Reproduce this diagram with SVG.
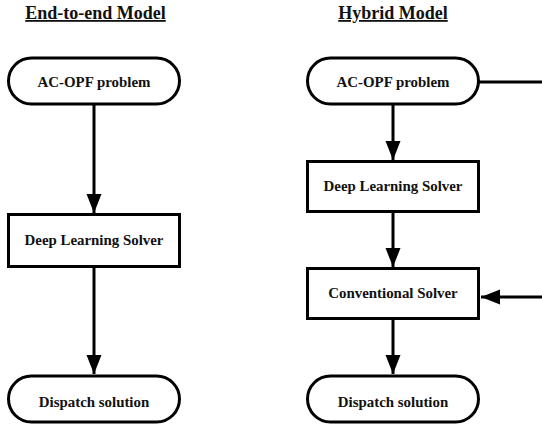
<svg xmlns="http://www.w3.org/2000/svg" width="542" height="427" viewBox="0 0 542 427">
<style>
.box{fill:#fff;stroke:#000;stroke-width:3}
.lbl{font-family:"Liberation Serif","Times New Roman",serif;font-weight:bold;font-size:14.9px;text-anchor:middle;fill:#111}
.title{font-family:"Liberation Serif","Times New Roman",serif;font-weight:bold;font-size:18px;text-anchor:middle;fill:#111;text-decoration:underline}
.conn{fill:none;stroke:#000;stroke-width:3}
</style>
<defs>
<marker id="ah" markerUnits="userSpaceOnUse" markerWidth="20" markerHeight="16" refX="19" refY="8" orient="auto">
<path d="M0,0.5 L19,8 L0,15.5 Z" fill="#000"/>
</marker>
</defs>
<text class="title" x="95.5" y="19">End-to-end Model</text>
<text class="title" x="393" y="19">Hybrid Model</text>
<g id="connectors">
<line class="conn" x1="94" y1="104" x2="94" y2="213" marker-end="url(#ah)"/>
<line class="conn" x1="94" y1="267" x2="94" y2="374" marker-end="url(#ah)"/>
<line class="conn" x1="393" y1="104" x2="393" y2="160" marker-end="url(#ah)"/>
<line class="conn" x1="393" y1="212" x2="393" y2="267" marker-end="url(#ah)"/>
<line class="conn" x1="393" y1="319" x2="393" y2="374" marker-end="url(#ah)"/>
<line class="conn" x1="479" y1="82" x2="542" y2="82"/>
<line class="conn" x1="542" y1="297" x2="481" y2="297" marker-end="url(#ah)"/>
</g>
<g id="left-acopf">
<rect class="box" x="8.5" y="58" width="171" height="46" rx="23"/>
<text class="lbl" x="94" y="87">AC-OPF problem</text>
</g>
<g id="left-dls">
<rect class="box" x="8.5" y="214.5" width="171" height="52"/>
<text class="lbl" x="94" y="245">Deep Learning Solver</text>
</g>
<g id="left-dispatch">
<rect class="box" x="8.5" y="376" width="171" height="46" rx="23"/>
<text class="lbl" x="94" y="407">Dispatch solution</text>
</g>
<g id="right-acopf">
<rect class="box" x="307.5" y="58" width="171" height="46" rx="23"/>
<text class="lbl" x="393" y="87">AC-OPF problem</text>
</g>
<g id="right-dls">
<rect class="box" x="307.5" y="161.5" width="171" height="50"/>
<text class="lbl" x="393" y="191">Deep Learning Solver</text>
</g>
<g id="right-conv">
<rect class="box" x="307.5" y="268.5" width="171" height="50"/>
<text class="lbl" x="393" y="298">Conventional Solver</text>
</g>
<g id="right-dispatch">
<rect class="box" x="307.5" y="376" width="171" height="46" rx="23"/>
<text class="lbl" x="393" y="407">Dispatch solution</text>
</g>
</svg>
